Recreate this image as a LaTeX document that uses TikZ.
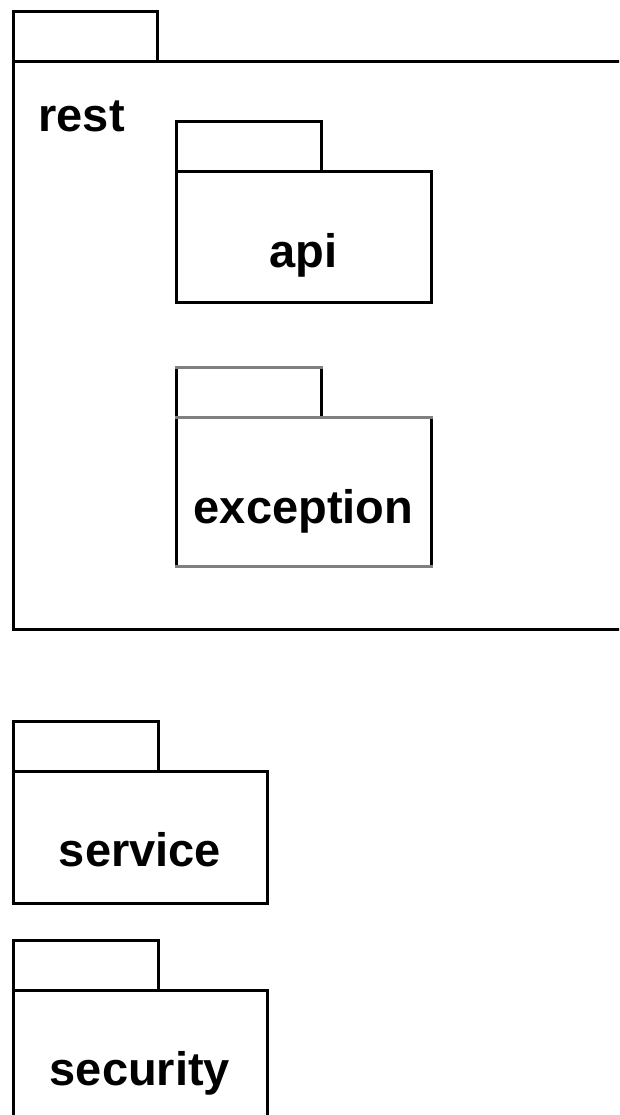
\documentclass[tikz,border=0pt]{standalone}
\usepackage{fontspec}
\setmainfont{Liberation Sans}
\usetikzlibrary{positioning}

\begin{document}
\begin{tikzpicture}[x=1pt, y=-1pt, line width=3pt,
    pkgbody/.style={draw, rectangle, inner sep=0pt, outer sep=0pt, anchor=north west},
    pkgtab/.style={draw, rectangle, inner sep=0pt, outer sep=0pt, anchor=south west,
      minimum width=145pt, minimum height=50pt},
    pkgname/.style={font=\fontsize{47}{50}\selectfont\bfseries, inner sep=0pt}]
  % Page frame
  \useasboundingbox (0,0) rectangle (619,1115);
  \clip (0,0) rectangle (619,1115);
  % Outer package
  \node[pkgbody, minimum width=700pt, minimum height=567pt] (rest) at (13,62) {};
  \node[pkgtab, minimum width=144pt] (resttab) at (rest.north west) {};
  \node[pkgname, anchor=base west] (restname) at (37,132) {rest};
  % Nested packages
  \node[pkgbody, minimum width=255pt, minimum height=130pt] (api) at (176,172) {};
  \node[pkgtab] (apitab) at (api.north west) {};
  \node[pkgname, anchor=base] (apiname) at (303.5,267) {api};
  \node[pkgbody, draw=none, minimum width=255pt, minimum height=149pt] (exc) at (176,417) {};
  \node[pkgtab, draw=none] (exctab) at (exc.north west) {};
  \draw (exctab.north west) -- (exc.south west)
        (exctab.north east) -- (exctab.south east)
        (exc.north east) -- (exc.south east);
  \draw[gray, line cap=rect] (exctab.north west) -- (exctab.north east)
        (exc.north west) -- (exc.north east)
        (exc.south west) -- (exc.south east);
  \node[pkgname, anchor=base] (excname) at (303.5,523) {exception};
  % Top level packages
  \node[pkgbody, minimum width=254pt, minimum height=132pt] (service) at (13,771) {};
  \node[pkgtab] (servicetab) at (service.north west) {};
  \node[pkgname, anchor=base] (servicename) at (140,866) {service};
  \node[pkgbody, minimum width=254pt, minimum height=200pt] (security) at (13,990) {};
  \node[pkgtab] (securitytab) at (security.north west) {};
  \node[pkgname, anchor=base] (securityname) at (140,1085) {security};
\end{tikzpicture}
\end{document}
